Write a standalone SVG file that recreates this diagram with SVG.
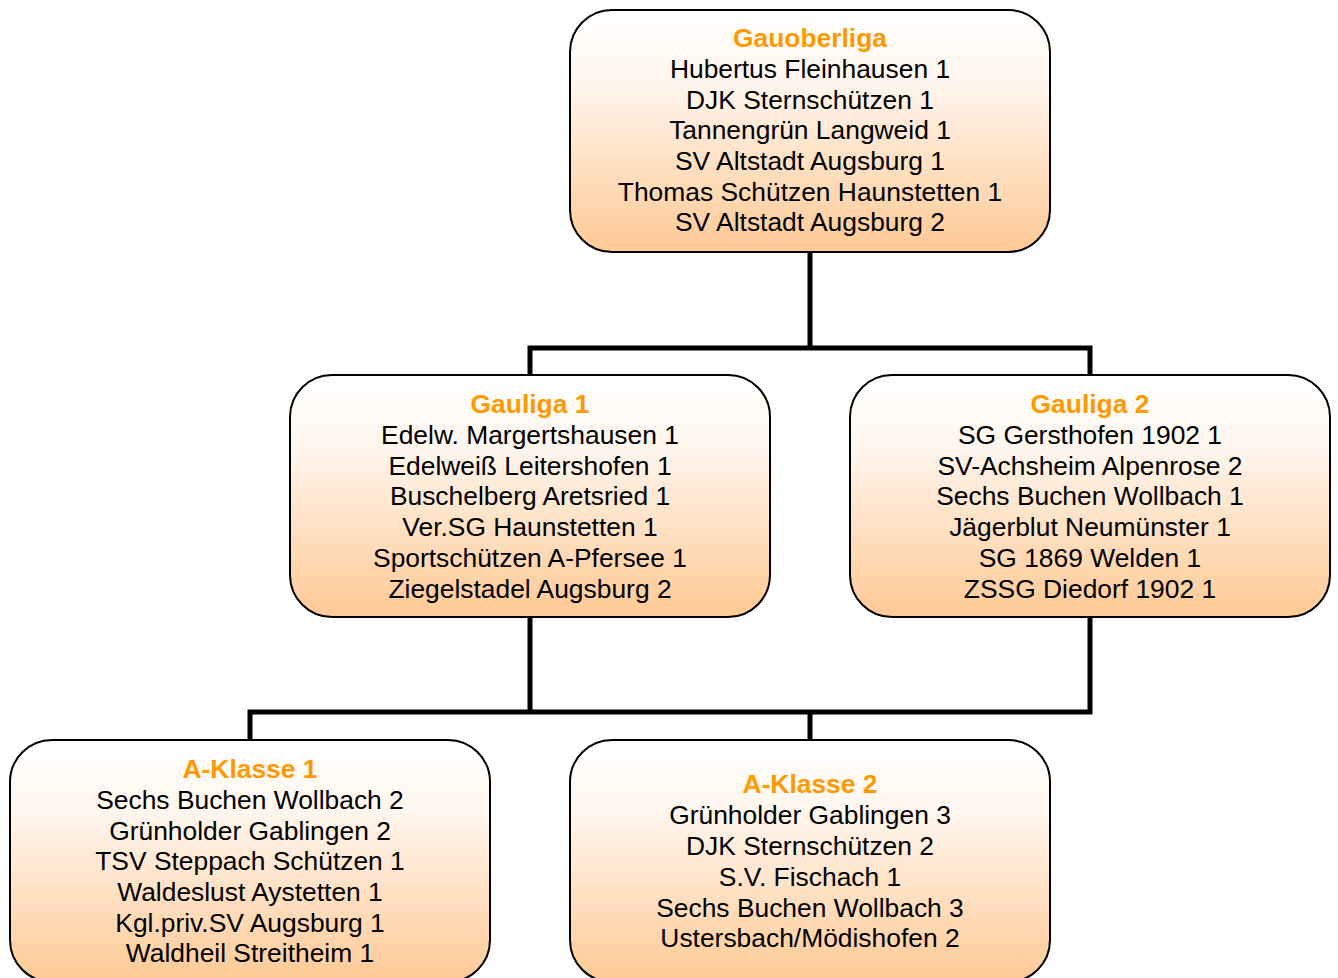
<svg xmlns="http://www.w3.org/2000/svg" width="1338" height="978" viewBox="0 0 1338 978">
<defs>
<linearGradient id="g" x1="0" y1="0" x2="0" y2="1">
<stop offset="0" stop-color="#FFFFFF"/>
<stop offset="0.3" stop-color="#FFF6EE"/>
<stop offset="1" stop-color="#FFC994"/>
</linearGradient>
<style>
.box{fill:url(#g);stroke:#000;stroke-width:2}
.t{font-family:"Liberation Sans",Arial,sans-serif;font-size:26.4px;text-anchor:middle;fill:#000}
.h{font-weight:bold;fill:#FF9900}
.c{fill:none;stroke:#000;stroke-width:5;stroke-linecap:square}
</style>
</defs>
<rect width="1338" height="978" fill="#fff"/>
<g id="connectors">
<path class="c" d="M810 252V348M530 348H1090M530 348V375M1090 348V375"/>
<path class="c" d="M530 617V712M1090 617V712M250 712H1090M250 712V740M810 712V740"/>
</g>
<g id="gauoberliga">
<rect class="box" x="570" y="10" width="480" height="242" rx="42"/>
<text class="t h" x="810" y="47">Gauoberliga</text>
<text class="t" x="810" y="78">Hubertus Fleinhausen 1</text>
<text class="t" x="810" y="109">DJK Sternschützen 1</text>
<text class="t" x="810" y="139">Tannengrün Langweid 1</text>
<text class="t" x="810" y="170">SV Altstadt Augsburg 1</text>
<text class="t" x="810" y="201">Thomas Schützen Haunstetten 1</text>
<text class="t" x="810" y="231">SV Altstadt Augsburg 2</text>
</g>
<g id="gauliga1">
<rect class="box" x="290" y="375" width="480" height="242" rx="42"/>
<text class="t h" x="530" y="413">Gauliga 1</text>
<text class="t" x="530" y="444">Edelw. Margertshausen 1</text>
<text class="t" x="530" y="475">Edelweiß Leitershofen 1</text>
<text class="t" x="530" y="505">Buschelberg Aretsried 1</text>
<text class="t" x="530" y="536">Ver.SG Haunstetten 1</text>
<text class="t" x="530" y="567">Sportschützen A-Pfersee 1</text>
<text class="t" x="530" y="598">Ziegelstadel Augsburg 2</text>
</g>
<g id="gauliga2">
<rect class="box" x="850" y="375" width="480" height="242" rx="42"/>
<text class="t h" x="1090" y="413">Gauliga 2</text>
<text class="t" x="1090" y="444">SG Gersthofen 1902 1</text>
<text class="t" x="1090" y="475">SV-Achsheim Alpenrose 2</text>
<text class="t" x="1090" y="505">Sechs Buchen Wollbach 1</text>
<text class="t" x="1090" y="536">Jägerblut Neumünster 1</text>
<text class="t" x="1090" y="567">SG 1869 Welden 1</text>
<text class="t" x="1090" y="598">ZSSG Diedorf 1902 1</text>
</g>
<g id="aklasse1">
<rect class="box" x="10" y="740" width="480" height="242" rx="42"/>
<text class="t h" x="250" y="778">A-Klasse 1</text>
<text class="t" x="250" y="809">Sechs Buchen Wollbach 2</text>
<text class="t" x="250" y="840">Grünholder Gablingen 2</text>
<text class="t" x="250" y="870">TSV Steppach Schützen 1</text>
<text class="t" x="250" y="901">Waldeslust Aystetten 1</text>
<text class="t" x="250" y="932">Kgl.priv.SV Augsburg 1</text>
<text class="t" x="250" y="962">Waldheil Streitheim 1</text>
</g>
<g id="aklasse2">
<rect class="box" x="570" y="740" width="480" height="242" rx="42"/>
<text class="t h" x="810" y="793">A-Klasse 2</text>
<text class="t" x="810" y="824">Grünholder Gablingen 3</text>
<text class="t" x="810" y="855">DJK Sternschützen 2</text>
<text class="t" x="810" y="886">S.V. Fischach 1</text>
<text class="t" x="810" y="917">Sechs Buchen Wollbach 3</text>
<text class="t" x="810" y="947">Ustersbach/Mödishofen 2</text>
</g>
</svg>
